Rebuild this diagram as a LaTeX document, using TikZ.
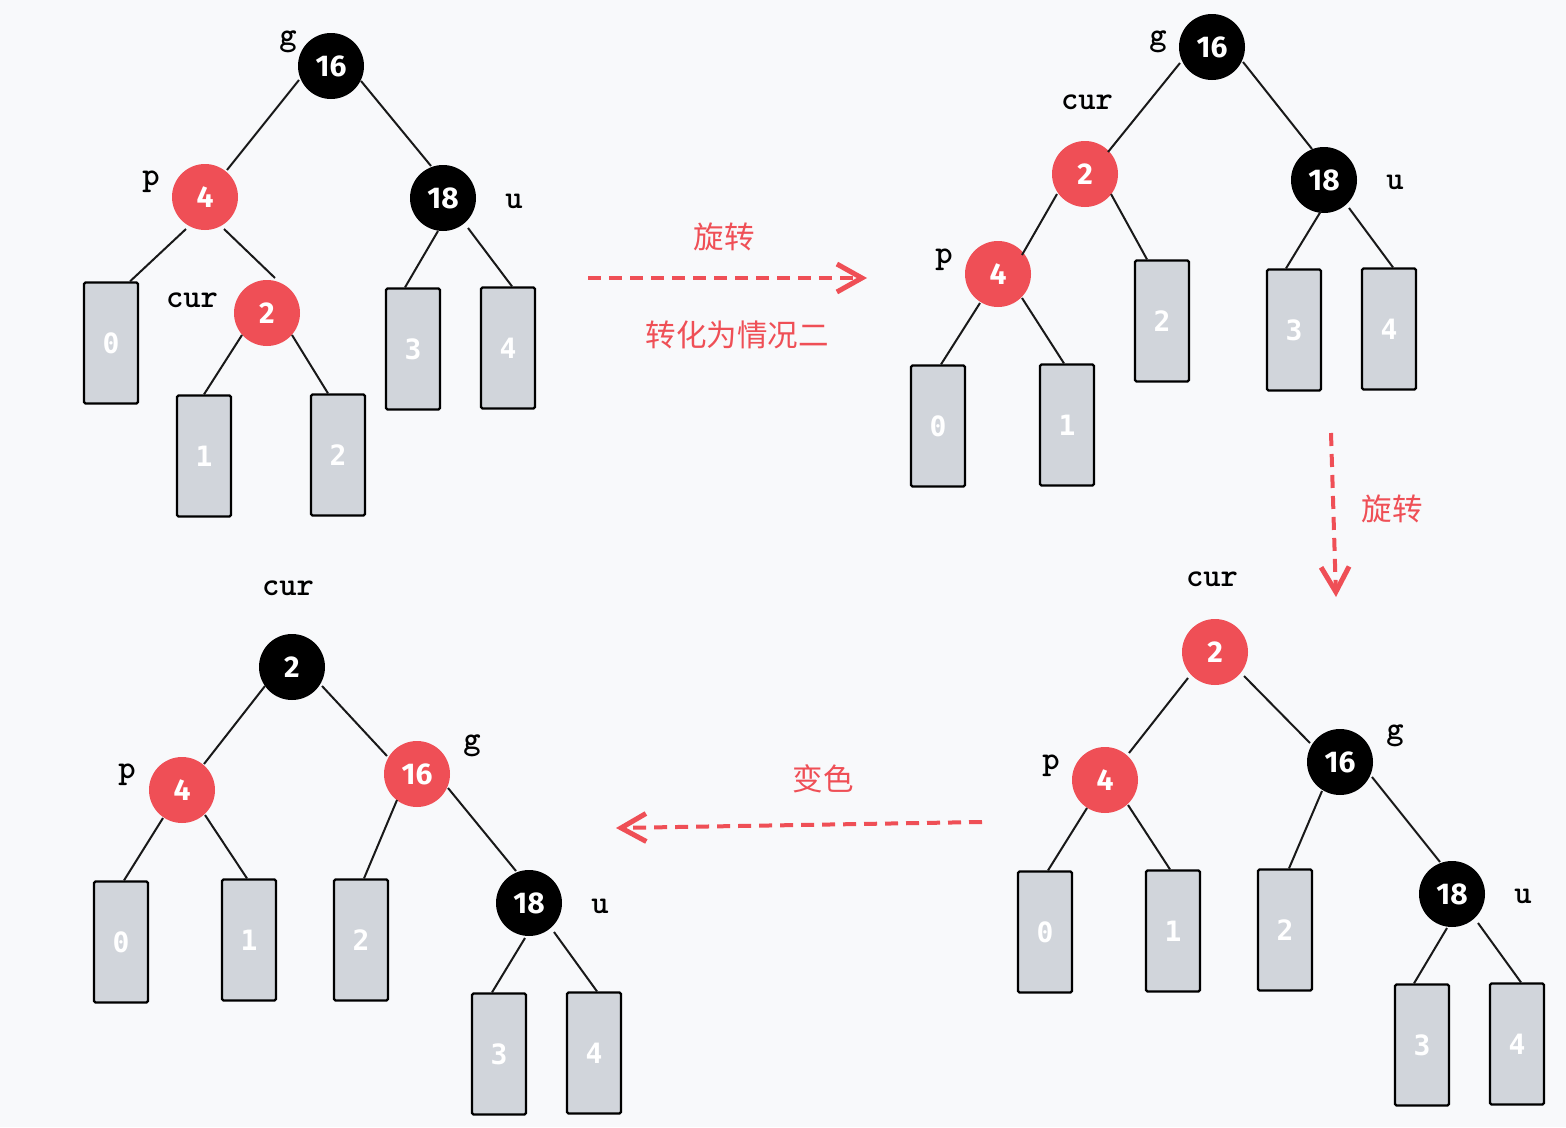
\documentclass[tikz,border=0pt]{standalone}
\usepackage{fontspec}
\setmainfont{Fira Sans}
\newfontfamily\boxfontfam{DejaVu Sans Mono}
\newfontfamily\cjk{Noto Sans CJK SC}
\usetikzlibrary{arrows.meta}
\definecolor{bgcol}{RGB}{248,249,251}
\definecolor{rbred}{RGB}{239,79,86}
\definecolor{leafgray}{RGB}{209,213,219}
\newcommand\numfont{\fontsize{30}{30}\selectfont\bfseries}
\newcommand\leaffont{\boxfontfam\fontsize{28}{28}\selectfont\bfseries}
\newcommand\labfont{\ttfamily\fontsize{33}{33}\selectfont\bfseries}
\newcommand\capfont{\cjk\fontsize{30.5}{30.5}\selectfont}
\tikzset{
  bn/.style={circle, fill=black, minimum size=66pt, inner sep=0pt, text=white, font=\numfont},
  rn/.style={bn, fill=rbred},
  leaf/.style={rectangle, draw=black, line width=2.2pt, fill=leafgray, minimum width=54pt, minimum height=121pt, inner sep=0pt, rounded corners=1.5pt, text=white, font=\leaffont},
  edge/.style={line width=2pt, draw=black!90},
  lab/.style={anchor=base, font=\labfont, inner sep=0pt},
  captext/.style={text=rbred, font=\capfont, inner sep=0pt},
  flow/.style={draw=rbred, line width=4pt, dash pattern=on 13pt off 8pt, -{Straight Barb[length=25pt,width=28pt,line width=5pt]}},
}
\begin{document}
\begin{tikzpicture}[x=1pt,y=-1pt]
\fill[bgcol] (0,0) rectangle (1566,1127);
\path[use as bounding box] (0,0) rectangle (1566,1127);

% ---------- Tree 1 (top left) ----------
\node[bn] (t1g) at (331,66) {16};
\node[rn] (t1p) at (205,197) {4};
\node[bn] (t1u) at (443,198) {18};
\node[rn] (t1c) at (267,313) {2};
\node[leaf] (t1b0) at (111,343) {0};
\node[leaf] (t1b1) at (204,456) {1};
\node[leaf] (t1b2) at (338,455) {2};
\node[leaf] (t1b3) at (413,349) {3};
\node[leaf] (t1b4) at (508,348) {4};
\node[lab] (t1lg) at (288,45) {g};
\node[lab] (t1lp) at (151,185) {p};
\node[lab] (t1lu) at (514,208) {u};
\node[lab] (t1lc) at (192,307) {cur};
\draw[edge] ([shift={(-32,14)}]t1g.center) -- ([shift={(22,-27)}]t1p.center);
\draw[edge] ([shift={(30,15)}]t1g.center) -- ([shift={(-12,-32)}]t1u.center);
\draw[edge] ([shift={(-19,32)}]t1p.center) -- ([xshift=19pt]t1b0.north);
\draw[edge] ([shift={(19,32)}]t1p.center) -- ([shift={(8,-35)}]t1c.center);
\draw[edge] ([shift={(-25,22)}]t1c.center) -- ([xshift=0pt]t1b1.north);
\draw[edge] ([shift={(25,22)}]t1c.center) -- ([xshift=-10pt]t1b2.north);
\draw[edge] ([shift={(-5,33)}]t1u.center) -- ([xshift=-8pt]t1b3.north);
\draw[edge] ([shift={(25,30)}]t1u.center) -- ([xshift=4pt]t1b4.north);

% ---------- Tree 2 (top right) ----------
\node[bn] (t2g) at (1212,47) {16};
\node[rn] (t2c) at (1085,174) {2};
\node[bn] (t2u) at (1324,180) {18};
\node[rn] (t2p) at (998,274) {4};
\node[leaf] (t2b0) at (938,426) {0};
\node[leaf] (t2b1) at (1067,425) {1};
\node[leaf] (t2b2) at (1162,321) {2};
\node[leaf] (t2b3) at (1294,330) {3};
\node[leaf] (t2b4) at (1389,329) {4};
\node[lab] (t2lg) at (1158,45) {g};
\node[lab] (t2lc) at (1087,109) {cur};
\node[lab] (t2lu) at (1395,189) {u};
\node[lab] (t2lp) at (944,263) {p};
\draw[edge] ([shift={(-32,16)}]t2g.center) -- ([shift={(23,-22)}]t2c.center);
\draw[edge] ([shift={(31,15)}]t2g.center) -- ([shift={(-12,-31)}]t2u.center);
\draw[edge] ([shift={(-28,20)}]t2c.center) -- ([shift={(24,-19)}]t2p.center);
\draw[edge] ([shift={(26,20)}]t2c.center) -- ([xshift=-15pt]t2b2.north);
\draw[edge] ([shift={(-3,31)}]t2u.center) -- ([xshift=-8pt]t2b3.north);
\draw[edge] ([shift={(25,28)}]t2u.center) -- ([xshift=4pt]t2b4.north);
\draw[edge] ([shift={(-18,29)}]t2p.center) -- ([xshift=3pt]t2b0.north);
\draw[edge] ([shift={(24,24)}]t2p.center) -- ([xshift=-3pt]t2b1.north);

% ---------- Tree 3 (bottom right) ----------
\node[rn] (t3c) at (1215,652) {2};
\node[rn] (t3p) at (1105,780) {4};
\node[bn] (t3g) at (1340,762) {16};
\node[bn] (t3u) at (1452,894) {18};
\node[leaf] (t3b0) at (1045,932) {0};
\node[leaf] (t3b1) at (1173,931) {1};
\node[leaf] (t3b2) at (1285,930) {2};
\node[leaf] (t3b3) at (1422,1045) {3};
\node[leaf] (t3b4) at (1517,1044) {4};
\node[lab] (t3lc) at (1212,586) {cur};
\node[lab] (t3lp) at (1051,769) {p};
\node[lab] (t3lg) at (1395,739) {g};
\node[lab] (t3lu) at (1523,903) {u};
\draw[edge] ([shift={(-27,26)}]t3c.center) -- ([shift={(24,-27)}]t3p.center);
\draw[edge] ([shift={(29,24)}]t3c.center) -- ([shift={(-30,-19)}]t3g.center);
\draw[edge] ([shift={(-18,28)}]t3p.center) -- ([xshift=3pt]t3b0.north);
\draw[edge] ([shift={(23,25)}]t3p.center) -- ([xshift=-3pt]t3b1.north);
\draw[edge] ([shift={(-18,29)}]t3g.center) -- ([xshift=4pt]t3b2.north);
\draw[edge] ([shift={(32,15)}]t3g.center) -- ([shift={(-12,-32)}]t3u.center);
\draw[edge] ([shift={(-5,34)}]t3u.center) -- ([xshift=-8pt]t3b3.north);
\draw[edge] ([shift={(26,29)}]t3u.center) -- ([xshift=4pt]t3b4.north);

% ---------- Tree 4 (bottom left) ----------
\node[bn] (t4c) at (292,667) {2};
\node[rn] (t4p) at (182,790) {4};
\node[rn] (t4g) at (417,774) {16};
\node[bn] (t4u) at (529,903) {18};
\node[leaf] (t4b0) at (121,942) {0};
\node[leaf] (t4b1) at (249,940) {1};
\node[leaf] (t4b2) at (361,940) {2};
\node[leaf] (t4b3) at (499,1054) {3};
\node[leaf] (t4b4) at (594,1053) {4};
\node[lab] (t4lc) at (288,595) {cur};
\node[lab] (t4lp) at (127,778) {p};
\node[lab] (t4lg) at (472,749) {g};
\node[lab] (t4lu) at (600,913) {u};
\draw[edge] ([shift={(-27,19)}]t4c.center) -- ([shift={(22,-26)}]t4p.center);
\draw[edge] ([shift={(30,19)}]t4c.center) -- ([shift={(-30,-18)}]t4g.center);
\draw[edge] ([shift={(-19,28)}]t4p.center) -- ([xshift=3pt]t4b0.north);
\draw[edge] ([shift={(23,25)}]t4p.center) -- ([xshift=-2pt]t4b1.north);
\draw[edge] ([shift={(-20,26)}]t4g.center) -- ([xshift=3pt]t4b2.north);
\draw[edge] ([shift={(31,14)}]t4g.center) -- ([shift={(-13,-32)}]t4u.center);
\draw[edge] ([shift={(-4,35)}]t4u.center) -- ([xshift=-7pt]t4b3.north);
\draw[edge] ([shift={(25,29)}]t4u.center) -- ([xshift=3pt]t4b4.north);

% ---------- Transition arrows ----------
\coordinate (a1s) at (588,278);
\coordinate (a1e) at (867,278);
\coordinate (a2s) at (1331,433);
\coordinate (a2e) at (1336,597);
\coordinate (a3s) at (982,822);
\coordinate (a3e) at (616,828);
\draw[flow] (a1s) -- (a1e);
\draw[flow] (a2s) -- (a2e);
\draw[flow] (a3s) -- (a3e);
\node[captext] (c1) at (724,237) {旋转};
\node[captext] (c2) at (737,335) {转化为情况二};
\node[captext] (c3) at (1392,509) {旋转};
\node[captext] (c4) at (823,779) {变色};
\end{tikzpicture}
\end{document}
